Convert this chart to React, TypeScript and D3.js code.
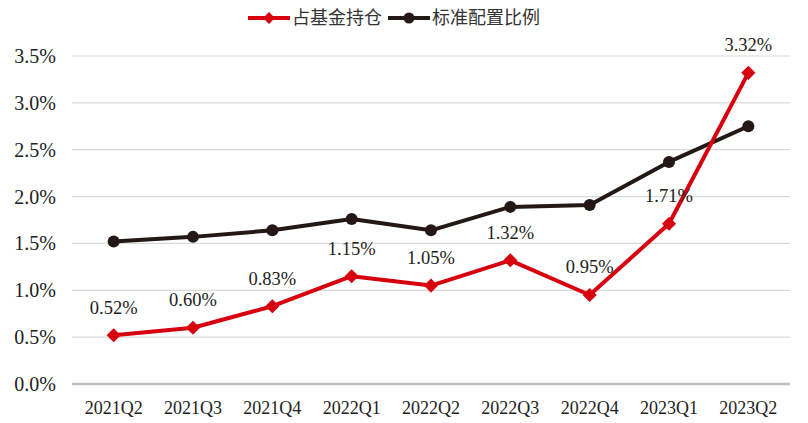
import React from "react";
import * as d3 from "d3";

const categories = ["2021Q2", "2021Q3", "2021Q4", "2022Q1", "2022Q2", "2022Q3", "2022Q4", "2023Q1", "2023Q2"];
const fundHolding = [0.52, 0.6, 0.83, 1.15, 1.05, 1.32, 0.95, 1.71, 3.32];
const standardWeight = [1.52, 1.57, 1.64, 1.76, 1.64, 1.89, 1.91, 2.37, 2.75];
const yTicks = [0, 0.5, 1.0, 1.5, 2.0, 2.5, 3.0, 3.5];
const seriesNames = ["占基金持仓", "标准配置比例"];

const W = 808;
const H = 423;
const RED = "#d7000f";
const BLACK = "#231815";

export default function App() {
  const x = d3.scaleBand<string>().domain(categories).range([74, 788]);
  const cx = (c: string) => (x(c) as number) + x.bandwidth() / 2;
  const y = d3.scaleLinear().domain([0, 3.5]).range([384, 56]);
  const line = d3
    .line<number>()
    .x((_, i) => cx(categories[i]))
    .y((d) => y(d));
  const diamond = d3.symbol(d3.symbolSquare, 100)();
  const diamondSmall = d3.symbol(d3.symbolSquare, 70)();
  const serif = { fontFamily: "'Liberation Serif', 'Times New Roman', Times, serif" };
  const sans = { fontFamily: "'Noto Sans CJK SC', 'Noto Sans', sans-serif" };

  return (
    <svg width={W} height={H} style={{ position: "absolute", left: 0, top: 0, background: "#fff" }}>
      {yTicks.map((t) => (
        <g key={t}>
          {t > 0 && <line x1={72} x2={790} y1={y(t)} y2={y(t)} stroke="#d9d9d9" strokeWidth={1.2} />}
          <text x={56} y={y(t)} dy="0.35em" textAnchor="end" style={serif} fontSize={20} fill="#222">
            {t.toFixed(1)}%
          </text>
        </g>
      ))}
      <line x1={72} x2={790} y1={y(0)} y2={y(0)} stroke="#bfbfbf" strokeWidth={2.5} />
      {categories.map((c) => (
        <text key={c} x={cx(c)} y={408} dy="0.35em" textAnchor="middle" style={serif} fontSize={18} fill="#222">
          {c}
        </text>
      ))}
      <path d={line(standardWeight) || ""} fill="none" stroke={BLACK} strokeWidth={4} strokeLinejoin="round" />
      {standardWeight.map((v, i) => (
        <circle key={i} cx={cx(categories[i])} cy={y(v)} r={6} fill={BLACK} />
      ))}
      <path d={line(fundHolding) || ""} fill="none" stroke={RED} strokeWidth={4} strokeLinejoin="round" />
      {fundHolding.map((v, i) => (
        <path key={i} d={diamond || ""} transform={`translate(${cx(categories[i])},${y(v)}) rotate(45)`} fill={RED} />
      ))}
      {fundHolding.map((v, i) => (
        <text
          key={"l" + i}
          x={cx(categories[i])}
          y={y(v) - 28}
          dy="0.35em"
          textAnchor="middle"
          style={serif}
          fontSize={18.5}
          fill="#222"
        >
          {v.toFixed(2)}%
        </text>
      ))}
      <g>
        <line x1={248} x2={290} y1={18} y2={18} stroke={RED} strokeWidth={4} />
        <path d={diamondSmall || ""} transform="translate(269,18) rotate(45)" fill={RED} />
        <text x={292} y={18} dy="0.35em" style={sans} fontSize={18} fill="#333">
          {seriesNames[0]}
        </text>
        <line x1={388} x2={430} y1={18} y2={18} stroke={BLACK} strokeWidth={4} />
        <circle cx={409} cy={18} r={5.5} fill={BLACK} />
        <text x={432} y={18} dy="0.35em" style={sans} fontSize={18} fill="#333">
          {seriesNames[1]}
        </text>
      </g>
    </svg>
  );
}
